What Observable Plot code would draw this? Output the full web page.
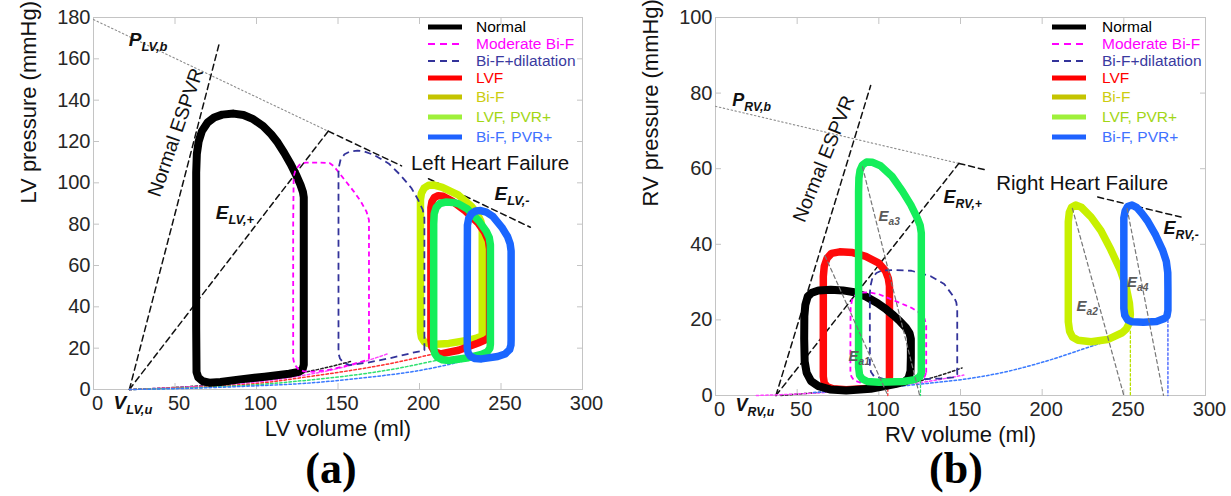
<!DOCTYPE html>
<html><head><meta charset="utf-8">
<script src="https://cdn.jsdelivr.net/npm/d3@7"></script>
<script src="https://cdn.jsdelivr.net/npm/@observablehq/plot@0.6"></script>
<style>
body{margin:0;background:#fff;font-family:"Liberation Sans",Arial,Helvetica,sans-serif;}
#wrap{position:relative;width:1231px;height:496px;overflow:hidden;background:#fff;}
.panel{position:absolute;top:0;}
.legend{position:absolute;font-size:15.5px;line-height:1;white-space:nowrap;}
.legend .row{display:flex;align-items:center;}
.caption{position:absolute;top:443px;width:120px;height:50px;line-height:50px;text-align:center;font:bold 44px "Liberation Serif","Times New Roman",serif;color:#000;}
</style></head><body>
<div id="wrap"></div>
<script>
// ---------------- data ----------------
const seriesNames = ["Normal","Moderate Bi-F","Bi-F+dilatation","LVF","Bi-F","LVF, PVR+","Bi-F, PVR+"];
const xTicks = [0,50,100,150,200,250,300];
const lvYTicks = [0,20,40,60,80,100,120,140,160,180];
const rvYTicks = [0,20,40,60,80,100];

// LV pressure-volume loops [volume ml, pressure mmHg]
const lvNormal = [[129,93],[129,60],[129,30],[129,12],[128.2,9.6],[126,8.5],[120,7.6],[105,6.2],[90,4.9],[78,3.6],[71,3.3],[67,4],[64.3,5.8],[63.2,8.5],[63,30],[63,70],[63,105],[63.4,114],[64.5,120],[66.5,125],[70,129.2],[74,131.6],[79,133],[86,133.5],[92,132.8],[98,130.8],[104,127.5],[109,123.5],[113,119.5],[117,114.5],[121,109],[124.5,103.5],[127,99],[128.5,95.5]];
const lvModerate = [[169,15],[169,40],[169,70],[169,82],[167.5,86],[164,91],[160,95.5],[155,100.5],[150.5,105],[147.5,108],[145,109.5],[138,109.8],[130,109.8],[126.5,108.8],[124,106.5],[122.8,103],[122.5,80],[122.5,40],[122.5,15],[123.3,12.2],[125.5,10],[129,8.8],[135,8.6],[145,9.6],[158,12],[164,13.4],[167.5,14.2]];
const lvDilat = [[203,19],[203,40],[203,70],[203,83],[202,87],[199,92],[195,97.5],[188,104],[181,109.4],[172,113.5],[166,115.2],[162,115.6],[157.5,115.2],[154,113.8],[151.6,111.3],[150.5,107.5],[150.3,105],[150.3,70],[150.3,30],[150.3,17.5],[151.2,15],[153,13.2],[157,11.8],[168,13],[182,15.2],[196,17.8],[201,18.6]];
const lvLVF = [[243,26],[243,50],[243,68],[242.3,72],[240,76],[236,80.5],[228,86.5],[220,91.2],[214.5,93.5],[211.5,93.8],[209,92.8],[207.6,90.8],[207,88],[207,60],[207,24],[207.6,20.5],[209.3,18.3],[213,17.2],[224,19],[236,22.5],[240.5,24],[242.5,25.2]];
const lvBiF = [[238.5,26.5],[238.5,50],[238.5,78],[237.6,81.5],[235.5,85],[232,88.5],[224,94],[214,97.8],[209,98.9],[205.5,98.8],[202.8,97.4],[201.2,95],[200.6,92],[200.6,60],[200.6,28],[201.2,25.2],[203,23],[207,21.8],[218,22.3],[230,23.8],[235.5,25],[237.8,25.8]];
const lvLVFPVR = [[243.5,22],[243.5,50],[243.5,70],[242.8,73.5],[241,76.5],[236.5,81.5],[229.5,87.3],[224,89.8],[220.5,90.5],[216,90.7],[212.5,90],[210.2,88],[209,85],[208.7,80],[208.7,40],[208.7,20],[209.3,17.5],[211,15.5],[214,14.4],[218,14],[230,15.4],[238,17],[241.5,18.2],[243.2,20]];
const lvBiFPVR = [[256.2,24],[256.2,50],[256.2,67],[255.6,70.5],[254,74],[250.5,78.5],[245,83.8],[241,85.8],[237.5,86.6],[234.5,86.4],[231.8,85],[230.2,82.8],[229.4,79.5],[229.3,60],[229.3,20],[229.8,17.8],[231.3,16],[234,15],[238,14.8],[248,16],[252.5,17.2],[255.3,19.3],[256.1,21.5]];

// LV end-diastolic pressure-volume curves
const lvEdNormal = [[22,0],[50,1],[80,2.7],[110,5.4],[130,8.4],[145,11],[158,13.6]];
const lvEdModerate = [[22,0],[60,1.3],[100,3.6],[130,7],[150,10.2],[166,13.5],[181,17.4]];
const lvEdLVF = [[22,0],[60,1],[100,2.9],[130,6],[160,9.5],[185,13],[210,17.5]];
const lvEdLVFPVR = [[22,0],[60,0.8],[100,2.3],[130,4.4],[160,7],[185,10],[210,14]];
const lvEdBiFPVR = [[22,0],[60,0.6],[100,1.8],[130,3],[165,5.6],[200,9.2],[231,14.5]];

// LV reference lines
const lvBase = [[0,179],[144,125]];
const lvEspvr = [[22,0],[77,167]];
const lvEPlus = [[22,0],[144,125]];
const lvEMinusA = [[144,125],[189,108.2]];
const lvEMinusB = [[205.5,102],[268,78.5]];

// LV annotations (data coordinates)
const lvMath = [{t:"P_LV,b",x:21.6,y:169},{t:"E_LV,+",x:75,y:85.5},{t:"E_LV,-",x:246,y:94.6},{t:"V_LV,u",x:12.3,y:-6.3}];
const lvNotes = [{t:"Left Heart Failure",x:243.3,y:109.4}];
const lvRotated = [{t:"Normal ESPVR",x:50.5,y:124.4}];

// RV pressure-volume loops
const rvNormal = [[119.6,15],[119.6,10],[119.4,6.5],[118.2,4.6],[116,3.7],[110,3],[95,1.8],[80,1.3],[70,1.6],[63,2.5],[58.5,3.8],[55.8,6],[54.6,9],[54.3,15],[54.4,21],[55,24],[56.5,26.2],[59,27.2],[63,27.8],[70.6,28],[78,27.8],[85,27.3],[92,26.2],[99,24.5],[104.5,22.8],[109,21.2],[113,19.6],[116.5,18],[118.8,16.5]];
const rvLVF = [[106.5,5],[106.5,20],[106.5,29],[105.8,31],[104,33],[100,35],[92,36.8],[84,37.8],[76,38],[71,37.6],[68.3,36.3],[66.6,34.2],[66,31.5],[66,15],[66,5],[66.6,3.3],[68.5,2.3],[72,1.8],[80,1.5],[95,1.9],[102,2.6],[105.3,3.5],[106.4,4.3]];
const rvModerate = [[129,6],[129,12],[129,18.5],[128,20.3],[126,21.6],[120,23.2],[109,25.2],[100,26.8],[94,27.3],[89,27.2],[85.5,26.5],[83.5,25.2],[82.7,23],[82.6,15],[82.6,6.5],[83.2,5],[84.8,4],[88,3.5],[92,3.4],[105,3.4],[118,3.8],[125,4.3],[128,5]];
const rvDilat = [[148,5.5],[148,15],[148,23],[147.4,24.7],[146,26],[140,29.5],[132,31.5],[120,33],[109,33.2],[102,33.1],[98.5,32.4],[96,31],[94.9,29],[94.5,27],[94.5,15],[94.5,8],[95.2,6.2],[97,5.1],[104,4.2],[120,4.2],[138,4.5],[145.5,4.8],[147.5,5.1]];
const rvLVFPVR = [[126,6],[126,20],[126,35],[126,43],[125.3,45],[123.5,47],[119.5,50.5],[114.5,54],[108,58],[101,60.8],[96,61.7],[92.5,61.8],[90,61],[88.5,59.6],[87.8,57.5],[87.6,54],[87.6,40],[87.6,15],[87.6,7.5],[88.2,5.4],[89.8,4.4],[93,3.7],[100,3.5],[115,3.7],[122,4.2],[125.2,5]];
const rvBiF = [[216,46],[216.6,48.4],[218,49.8],[220.5,50.4],[224,49.8],[230,47.2],[236,43.6],[242,38.6],[248,33],[251.5,28.5],[253.4,24.5],[254,21.5],[253.4,19.2],[251.5,17.6],[249,16.6],[240,14.8],[230,14.2],[222,14.6],[218.5,15.5],[216.8,17],[216,19.5],[216,32]];
const rvBiFPVR = [[250,47],[250.8,48.8],[252.3,50],[255,50.4],[258,49.7],[261,48.2],[264.5,46.2],[269.5,42.4],[273.8,38.4],[276,35.5],[276.9,32.5],[277,28],[277,22.5],[276.4,21],[275,20.4],[270,19.6],[262,19.4],[255,19.5],[252.3,20],[250.6,21.2],[250,23],[250,35]];

// RV end-diastolic curves, drop lines and arterial elastance lines
const rvEdNormal = [[40,0],[60,0.7],[80,1.4],[100,2.2],[118,3.2],[135,5],[151,7.3]];
const rvEdModerate = [[25,0],[50,0.4],[80,1.2],[110,2.5],[130,3.7],[152,5.4]];
const rvEdBiFPVR = [[60,0.8],[100,2],[130,3.2],[157,4.6],[180,6.5],[204,9.3],[225,12.3],[240,14.6],[252,17.8]];
const rvDropLVF = [[105.5,3],[105.5,0]];
const rvDropLVFPVR = [[125.5,4],[125.5,0]];
const rvDropBiF = [[254,17],[254,0]];
const rvDropBiFPVR = [[277,20],[277,0]];
const rvEa1 = [[67,37],[105.5,0]];
const rvEa3 = [[90,60.5],[125,0]];
const rvEa2 = [[218.5,49.5],[250,0]];
const rvEa4 = [[252,49.5],[274.3,0]];

// RV reference lines
const rvBase = [[0,76.5],[149,61.4]];
const rvEspvr = [[37,0],[95,82]];
const rvEPlus = [[37,0],[149,61.4]];
const rvEMinusA = [[149,61.4],[166,59.6]];
const rvEMinusB = [[234,52.5],[285,47.2]];

// RV annotations
const rvMath = [{t:"P_RV,b",x:10.2,y:78},{t:"E_RV,+",x:139.6,y:52.4},{t:"E_RV,-",x:274.3,y:44.2},{t:"V_RV,u",x:12.2,y:-2.7}];
const rvEaLabels = [{t:"E_a1",x:81.4,y:10.3},{t:"E_a3",x:99.8,y:47.4},{t:"E_a2",x:221,y:23.5},{t:"E_a4",x:252,y:29.9}];
const rvNotes = [{t:"Right Heart Failure",x:224.5,y:56}];
const rvRotated = [{t:"Normal ESPVR",x:66.3,y:62.6}];

// ---------------- styles ----------------
const FONT = '"Liberation Sans", Arial, Helvetica, sans-serif';
const loopStyle = {
  "Normal": {stroke:"#000000", width:8},
  "Moderate Bi-F": {stroke:"#ff00ff", width:1.8, dash:"5,3.5"},
  "Bi-F+dilatation": {stroke:"#33339a", width:1.8, dash:"7,4.5"},
  "LVF": {stroke:"#ff0a0a", width:7.5},
  "Bi-F": {stroke:"#c8f000", width:7.5},
  "LVF, PVR+": {stroke:"#14ee5a", width:7.5},
  "Bi-F, PVR+": {stroke:"#1a66ff", width:7.5}
};
const legendStyle = {
  "Normal": {line:"#000000", text:"#000000", w:5},
  "Moderate Bi-F": {line:"#ff00ff", text:"#ff00ff", w:2, dash:"7,5"},
  "Bi-F+dilatation": {line:"#33339a", text:"#3a3aa0", w:2, dash:"7,5"},
  "LVF": {line:"#ff0000", text:"#ff0000", w:5},
  "Bi-F": {line:"#c4c400", text:"#cccc10", w:5},
  "LVF, PVR+": {line:"#9ff03a", text:"#a2d616", w:5},
  "Bi-F, PVR+": {line:"#1f62ff", text:"#3f72ff", w:5}
};
const legendRowH = [17,17,17,17,21,20,20];

const xy = {x: d => d[0], y: d => d[1]};

function loopMark(data, name) {
  const s = loopStyle[name];
  return Plot.line(data, {...xy, curve: "linear-closed", stroke: s.stroke, strokeWidth: s.width,
    strokeDasharray: s.dash, strokeLinejoin: "round", strokeLinecap: s.dash ? "butt" : "round"});
}
function dotted(data, color, w = 1.5) {
  return Plot.line(data, {...xy, curve: "catmull-rom", stroke: color, strokeWidth: w, strokeDasharray: "2.5,2.2"});
}
function dashed(data, color = "#111", w = 1.5, dash = "6,4") {
  return Plot.line(data, {...xy, stroke: color, strokeWidth: w, strokeDasharray: dash});
}

function axes(yTicks, xLabel, yLabel) {
  const grey = "#c4c4c4";
  return [
    Plot.frame({stroke: grey}),
    Plot.axisX({anchor: "bottom", ticks: xTicks, tickSize: -6, tickFormat: () => "", stroke: grey, label: null}),
    Plot.axisX({anchor: "bottom", ticks: xTicks, tickSize: 0, tickPadding: 6, dx: 4, fontSize: 20, fill: "#262626", stroke: "none", label: null}),
    Plot.axisX({anchor: "top", ticks: xTicks, tickSize: -6, tickFormat: () => "", stroke: grey, label: null}),
    Plot.axisY({anchor: "left", ticks: yTicks, tickSize: -6, tickPadding: 9, fontSize: 20, stroke: grey, fill: "#262626", label: null}),
    Plot.axisY({anchor: "right", ticks: yTicks, tickSize: -6, tickFormat: () => "", stroke: grey, label: null}),
    Plot.text([xLabel], {frameAnchor: "bottom", dy: 46, text: d => d, fontSize: 22, fill: "#111"}),
    Plot.text([yLabel], {frameAnchor: "left", dx: -65, rotate: -90, text: d => d, fontSize: 22, fill: "#111"})
  ];
}
function mathText(data, size, color = "#111") {
  return Plot.text(data, {x: "x", y: "y", text: "t", textAnchor: "start", fontSize: size,
    fontStyle: "italic", fontWeight: "bold", fill: color});
}
function noteText(data, size) {
  return Plot.text(data, {x: "x", y: "y", text: "t", fontSize: size, fill: "#111"});
}
function subscripts(svg) {
  d3.select(svg).selectAll("text").each(function() {
    if (this.childElementCount === 0 && this.textContent.includes("_")) {
      const [base, sub] = this.textContent.split("_");
      const t = d3.select(this).text("");
      t.append("tspan").text(base);
      t.append("tspan").attr("font-size", "0.68em").attr("dy", "0.38em").text(sub);
    }
  });
  return svg;
}

// ---------------- left panel ----------------
const left = Plot.plot({
  width: 615, height: 496, marginLeft: 93, marginRight: 33, marginTop: 17, marginBottom: 107,
  x: {domain: [0, 300]}, y: {domain: [0, 180]},
  style: {fontFamily: FONT, background: "transparent", overflow: "visible"},
  marks: [
    ...axes(lvYTicks, "LV volume (ml)", "LV pressure (mmHg)"),
    dashed(lvBase, "#8c8c8c", 1.1, "1.5,2.5"),
    dashed(lvEspvr), dashed(lvEPlus), dashed(lvEMinusA), dashed(lvEMinusB),
    dotted(lvEdNormal, "#222"), dotted(lvEdModerate, "#ff44ff"), dotted(lvEdLVF, "#ff3030"),
    dotted(lvEdLVFPVR, "#30e070"), dotted(lvEdBiFPVR, "#3a7aff"),
    loopMark(lvNormal, "Normal"),
    loopMark(lvModerate, "Moderate Bi-F"),
    loopMark(lvBiF, "Bi-F"),
    loopMark(lvDilat, "Bi-F+dilatation"),
    loopMark(lvLVF, "LVF"),
    loopMark(lvLVFPVR, "LVF, PVR+"),
    loopMark(lvBiFPVR, "Bi-F, PVR+"),
    noteText(lvNotes, 20.5),
    Plot.text(lvRotated, {x: "x", y: "y", text: "t", rotate: -71, fontSize: 19.5, fill: "#111"}),
    mathText(lvMath, 19)
  ]
});

// ---------------- right panel ----------------
const right = Plot.plot({
  width: 616, height: 496, marginLeft: 100, marginRight: 26, marginTop: 17, marginBottom: 101,
  x: {domain: [0, 300]}, y: {domain: [0, 100]},
  style: {fontFamily: FONT, background: "transparent", overflow: "visible"},
  marks: [
    ...axes(rvYTicks, "RV volume (ml)", "RV pressure (mmHg)"),
    dashed(rvBase, "#8c8c8c", 1.1, "1.5,2.5"),
    dashed(rvEspvr), dashed(rvEPlus), dashed(rvEMinusA), dashed(rvEMinusB),
    dotted(rvEdNormal, "#222"), dotted(rvEdModerate, "#ff44ff"), dotted(rvEdBiFPVR, "#3a7aff"),
    dotted(rvDropLVF, "#ff3030", 1.3), dotted(rvDropLVFPVR, "#30e070", 1.3),
    dotted(rvDropBiF, "#b8e000", 1.3), dotted(rvDropBiFPVR, "#3a5aff", 1.3),
    loopMark(rvLVF, "LVF"),
    loopMark(rvNormal, "Normal"),
    loopMark(rvModerate, "Moderate Bi-F"),
    loopMark(rvDilat, "Bi-F+dilatation"),
    loopMark(rvLVFPVR, "LVF, PVR+"),
    loopMark(rvBiF, "Bi-F"),
    loopMark(rvBiFPVR, "Bi-F, PVR+"),
    dashed(rvEa1, "#777", 1.2, "4,3"), dashed(rvEa3, "#777", 1.2, "4,3"),
    dashed(rvEa2, "#777", 1.2, "4,3"), dashed(rvEa4, "#777", 1.2, "4,3"),
    noteText(rvNotes, 20.5),
    Plot.text(rvRotated, {x: "x", y: "y", text: "t", rotate: -68, fontSize: 19.5, fill: "#111"}),
    mathText(rvMath, 18),
    mathText(rvEaLabels, 15, "#5a5a5a")
  ]
});

// ---------------- assemble ----------------
const wrap = document.getElementById("wrap");
function place(node, leftPx) {
  const d = document.createElement("div");
  d.className = "panel"; d.style.left = leftPx + "px";
  d.appendChild(subscripts(node));
  wrap.appendChild(d);
}
place(left, 0);
place(right, 615);

function legend(leftPx, topPx, gap) {
  const div = document.createElement("div");
  div.className = "legend";
  div.style.left = leftPx + "px"; div.style.top = topPx + "px";
  seriesNames.forEach((name, i) => {
    const st = legendStyle[name];
    const row = document.createElement("div");
    row.className = "row"; row.style.height = legendRowH[i] + "px";
    row.innerHTML = `<svg width="34" height="10" style="display:block"><line x1="0" x2="34" y1="5" y2="5" stroke="${st.line}" stroke-width="${st.w}" ${st.dash ? `stroke-dasharray="${st.dash}"` : ""}/></svg><span style="color:${st.text};margin-left:${gap}px">${name}</span>`;
    div.appendChild(row);
  });
  wrap.appendChild(div);
}
legend(428, 18, 14);
legend(1052, 18, 16);

function caption(text, centerPx) {
  const d = document.createElement("div");
  d.className = "caption"; d.style.left = (centerPx - 60) + "px";
  d.textContent = text;
  wrap.appendChild(d);
}
caption("(a)", 331);
caption("(b)", 956);
</script>
</body></html>
